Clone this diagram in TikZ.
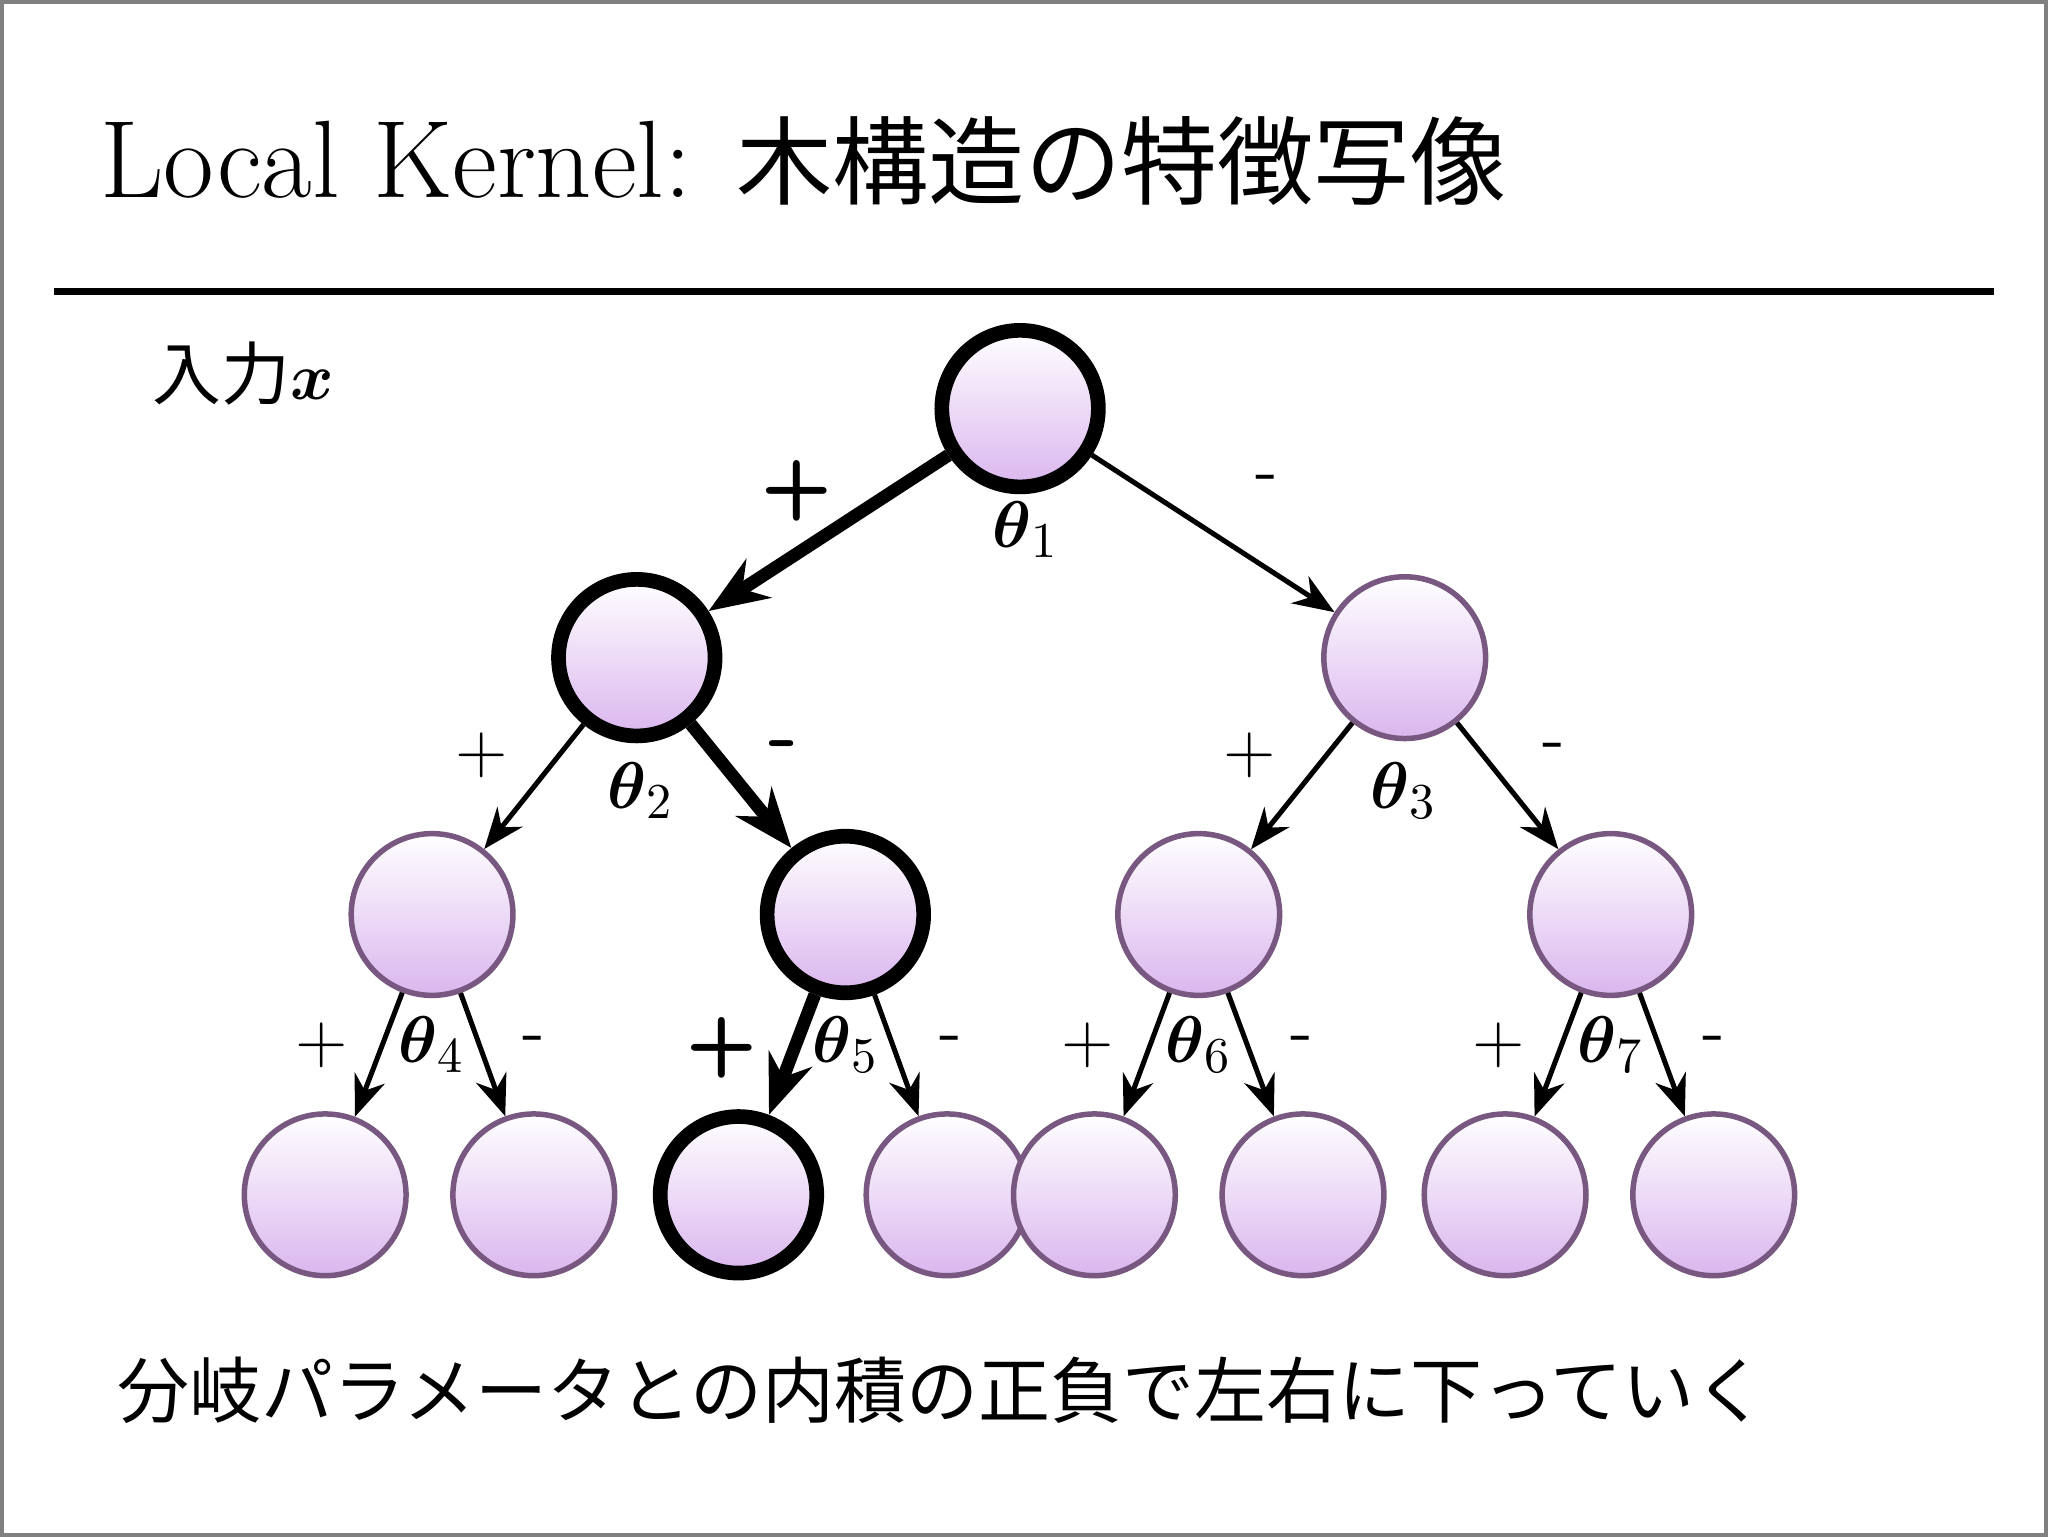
\documentclass[tikz,border=0pt]{standalone}
\usepackage{amsmath}
\usepackage{fontspec}
\newfontfamily\cjk{Noto Sans CJK JP}
\usetikzlibrary{arrows.meta}
\definecolor{ring}{RGB}{120,88,128}
\definecolor{lav}{RGB}{218,182,238}
\begin{document}
\begin{tikzpicture}[x=0.01cm,y=-0.01cm,
  nd/.style={circle,minimum size=1.24cm,inner sep=0pt,top color=white,bottom color=lav,draw=ring,line width=1.2pt},
  hot/.style={nd,draw=black,line width=3.2pt,minimum size=1.2cm},
  ar/.style={-{Stealth[length=9pt,width=7pt]},line width=1.1pt},
  har/.style={-{Stealth[length=13pt,width=10pt]},line width=2.8pt},
  th/.style={font=\fontsize{15}{18}\selectfont},
  pm/.style={font=\sffamily\fontsize{15}{18}\selectfont},
  bpm/.style={font=\sffamily\bfseries\fontsize{18}{20}\selectfont}]
\draw[gray,line width=0.8pt] (0,0) rectangle (1568,1176);
\node[anchor=base west,inner sep=0pt] (title) at (75,150) {\fontsize{24}{28}\selectfont Local Kernel: {\cjk\fontsize{21}{28}\selectfont 木構造の特徴写像}};
\draw[line width=1.6pt] (40,222) -- (1528,222);
\node[anchor=west,inner sep=0pt] (inp) at (115,285) {\cjk\fontsize{15}{18}\selectfont 入力$\boldsymbol{x}$};
\node (n1) [hot] at (781,312) {};
\node (n2) [hot] at (487,503) {};
\node (n3) [nd] at (1076,503) {};
\node (n4) [nd] at (330,700) {};
\node (n5) [hot] at (647,700) {};
\node (n6) [nd] at (918,700) {};
\node (n7) [nd] at (1234,700) {};
\foreach \i/\x in {1/248,2/408,4/725,5/838,6/998,7/1153,8/1313}{\node (l\i) [nd] at (\x,915) {};}
\node (l3) [hot] at (565,915) {};
\draw[har] (n1) -- (n2);
\draw[ar] (n1) -- (n3);
\draw[ar] (n2) -- (n4);
\draw[har] (n2) -- (n5);
\draw[ar] (n3) -- (n6);
\draw[ar] (n3) -- (n7);
\draw[ar] (n4) -- (l1); \draw[ar] (n4) -- (l2);
\draw[har] (n5) -- (l3); \draw[ar] (n5) -- (l4);
\draw[ar] (n6) -- (l5); \draw[ar] (n6) -- (l6);
\draw[ar] (n7) -- (l7); \draw[ar] (n7) -- (l8);
\node (t1) [th] at (785,405) {$\boldsymbol{\theta}_1$};
\node (t2) [th] at (490,605) {$\boldsymbol{\theta}_2$};
\node (t3) [th] at (1075,605) {$\boldsymbol{\theta}_3$};
\node (t4) [th] at (330,800) {$\boldsymbol{\theta}_4$};
\node (t5) [th] at (647,800) {$\boldsymbol{\theta}_5$};
\node (t6) [th] at (918,800) {$\boldsymbol{\theta}_6$};
\node (t7) [th] at (1234,800) {$\boldsymbol{\theta}_7$};
\node (p1) [bpm] at (610,375) {+};
\node (m1) [pm] at (970,370) {-};
\node (p2) [pm] at (368,578) {+};
\node (m2) [bpm] at (600,575) {-};
\node (p3) [pm] at (957,578) {+};
\node (m3) [pm] at (1190,575) {-};
\node (p4) [pm] at (245,800) {+};
\node (m4) [pm] at (408,800) {-};
\node (p5) [bpm] at (552,802) {+};
\node (m5) [pm] at (728,800) {-};
\node (p6) [pm] at (833,800) {+};
\node (m6) [pm] at (997,800) {-};
\node (p7) [pm] at (1148,800) {+};
\node (m7) [pm] at (1313,800) {-};
\node[anchor=west,inner sep=0pt] (cap) at (88,1065) {\cjk\fontsize{15.7}{18}\selectfont 分岐パラメータとの内積の正負で左右に下っていく};
\end{tikzpicture}
\end{document}
